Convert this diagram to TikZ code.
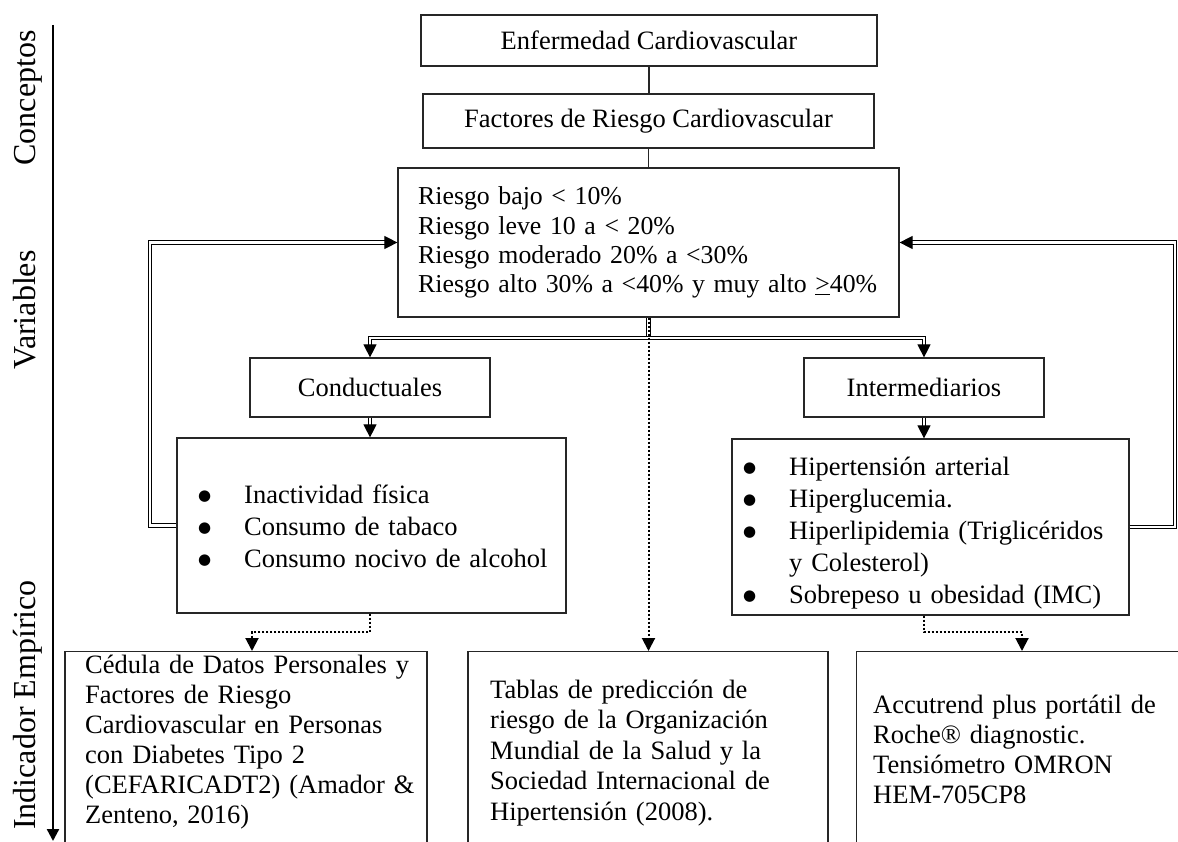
\documentclass[tikz,border=0pt]{standalone}
\usepackage{fontspec}
\setmainfont{Liberation Serif}
\newfontfamily\symfont{DejaVu Sans}
\usetikzlibrary{arrows.meta}
\usetikzlibrary{calc}

\newcommand{\blt}{\makebox[47pt][l]{\hspace{1pt}\raisebox{3pt}{\fontsize{15}{15}\selectfont\symfont ●}}}

\tikzset{
  box/.style={draw=black!85, line width=1.2pt, inner sep=0pt, font=\fontsize{26.5}{30}\selectfont},
  txt/.style={anchor=base west, align=left, inner sep=0pt},
  axlabel/.style={rotate=90, anchor=base, inner sep=0pt, font=\fontsize{32}{36}\selectfont},
  plainline/.style={line width=1.2pt, draw=black!85},
  dblline/.style={double, double distance=2.2pt, line width=1.1pt, line join=miter},
  dblarrow/.style={dblline, -{Triangle[length=13pt,width=13pt]}},
  dotarrow/.style={line width=2pt, dash pattern=on 2pt off 2pt, -{Triangle[length=13pt,width=13pt]}},
  axis/.style={line width=2.4pt, -{Triangle[length=12pt,width=12pt]}}
}

\begin{document}
\begin{tikzpicture}[x=1pt, y=-1pt]
\useasboundingbox (0,0) rectangle (1178,842);
\clip (0,0) rectangle (1178,842);

% eje lateral
\coordinate (axtop) at (53,25);
\coordinate (axbot) at (53,841);
\draw[axis] (axtop) -- (axbot);
\node[axlabel] (lcon) at (35,98) {Conceptos};
\node[axlabel] (lvar) at (35,310) {Variables};
\node[axlabel] (lind) at (35,705) {Indicador Empírico};

% conceptos
\node[box, minimum width=456pt, minimum height=51pt] (enf) at (649,40.5) {Enfermedad Cardiovascular};
\node[box, minimum width=451pt, minimum height=54pt] (fac) at (648.5,121) {Factores de Riesgo Cardiovascular};

% variables
\node[box, minimum width=501pt, minimum height=149pt] (risk) at (648.5,242.5) {};
\node[txt, text width=500pt, font=\fontsize{25.8}{29.3}\selectfont] (risktxt) at (418,205)
  {Riesgo bajo < 10\%\\
   Riesgo leve 10 a < 20\%\\
   Riesgo moderado 20\% a <30\%\\
   Riesgo alto 30\% a <40\% y muy alto \underline{>}40\%};
\node[box, minimum width=240pt, minimum height=59pt] (cond) at (370,387.5) {Conductuales};
\node[box, minimum width=240pt, minimum height=59pt] (inter) at (924,387.5) {Intermediarios};
\node[box, minimum width=389pt, minimum height=175pt] (condlist) at (371.5,525.5) {};
\node[box, minimum width=397pt, minimum height=176pt] (interlist) at (930.5,527) {};
\node[txt, text width=360pt, font=\fontsize{26.5}{32}\selectfont] (condtxt) at (197,503)
  {\blt Inactividad física\\
   \blt Consumo de tabaco\\
   \blt Consumo nocivo de alcohol};
\node[txt, text width=380pt, font=\fontsize{26.5}{32}\selectfont] (intertxt) at (742,475)
  {\blt Hipertensión arterial\\
   \blt Hiperglucemia.\\
   \blt Hiperlipidemia (Triglicéridos\\
   \hspace*{47pt}y Colesterol)\\
   \blt Sobrepeso u obesidad (IMC)};

% indicador empirico
\node[box, anchor=north, minimum width=362pt, minimum height=220pt] (docleft) at (246,651) {};
\node[box, anchor=north, minimum width=360pt, minimum height=220pt] (docmid) at (648,651) {};
\node[box, anchor=north west, minimum width=360pt, minimum height=220pt] (docright) at (856,651) {};
\node[txt, text width=340pt, font=\fontsize{26.5}{30}\selectfont] (lefttxt) at (85,673)
  {Cédula de Datos Personales y\\
   Factores de Riesgo\\
   Cardiovascular en Personas\\
   con Diabetes Tipo 2\\
   (CEFARICADT2) (Amador \&\\
   Zenteno, 2016)};
\node[txt, text width=330pt, font=\fontsize{26.5}{30.5}\selectfont] (midtxt) at (490,698)
  {Tablas de predicción de\\
   riesgo de la Organización\\
   Mundial de la Salud y la\\
   Sociedad Internacional de\\
   Hipertensión (2008).};
\node[txt, text width=300pt, font=\fontsize{26.5}{30}\selectfont] (righttxt) at (873,713)
  {Accutrend plus portátil de\\
   Roche® diagnostic.\\
   Tensiómetro OMRON\\
   HEM-705CP8};

% conectores
\coordinate (split) at (648.5,338);
\coordinate (lfb) at (150,400);
\coordinate (rfb) at (1175,400);
\coordinate (lkink) at (252,632);
\coordinate (rkink) at (1022,632);
\draw[plainline] (enf.south) -- (enf.south |- fac.north);
\draw[plainline] (fac.south) -- (fac.south |- risk.north);
\draw[dblarrow] (condlist.west) -| (lfb) |- (risk.west);
\draw[dblarrow] (interlist.east) -| (rfb) |- (risk.east);
\draw[dblline] (risk.south) -- (split);
\draw[dblarrow] (split) -| (cond.north);
\draw[dblarrow] (split) -| (inter.north);
\draw[dblarrow] (cond.south) -- (cond.south |- condlist.north);
\draw[dblarrow] (inter.south) -- (inter.south |- interlist.north);
\draw[dotarrow] (risk.south) -- (risk.south |- docmid.north);
\draw[dotarrow] (cond.south |- condlist.south) |- (lkink) -- (lkink |- docleft.north);
\draw[dotarrow] (inter.south |- interlist.south) |- (rkink) -- (rkink |- docright.north);
\end{tikzpicture}
\end{document}
